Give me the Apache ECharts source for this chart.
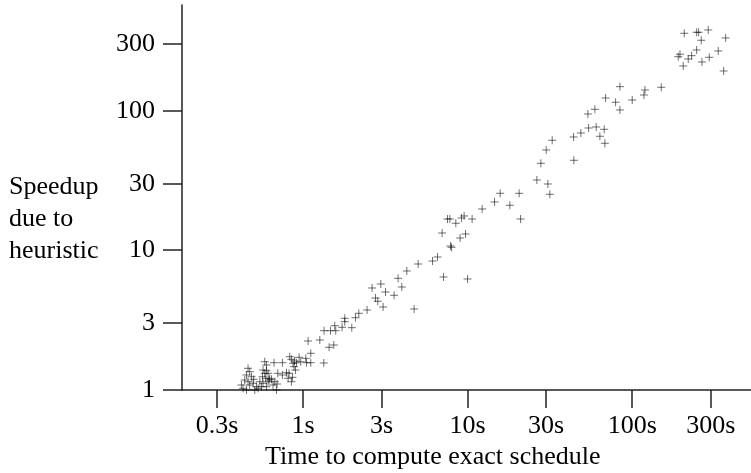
<!DOCTYPE html>
<html>
<head>
<meta charset="utf-8">
<script src="https://cdn.jsdelivr.net/npm/echarts@6/dist/echarts.min.js"></script>
<style>
html,body{margin:0;padding:0;background:#fff;}
#chart{width:751px;height:473px;}
</style>
</head>
<body>
<div id="chart"></div>
<script>
// Time to compute exact schedule (seconds)
const timeSec = [
  0.324,0.385,0.412,0.422,0.432,0.442,0.442,0.442,0.453,0.453,
  0.463,0.463,0.474,0.474,0.474,0.486,0.486,0.497,0.497,0.501,
  0.509,0.521,0.533,0.546,0.546,0.559,0.567,0.571,0.571,0.571,
  0.585,0.585,0.585,0.593,0.599,0.599,0.599,0.613,0.613,0.613,
  0.621,0.627,0.643,0.643,0.657,0.666,0.673,0.689,0.695,0.702,
  0.749,0.749,0.793,0.811,0.822,0.830,0.850,0.850,0.862,0.869,
  0.882,0.887,0.899,0.912,0.946,0.968,1.038,1.049,1.114,1.114,
  1.073,1.264,1.336,1.342,1.439,1.537,1.468,1.580,1.558,1.726,
  1.792,1.792,1.977,2.082,2.181,2.449,2.627,2.968,2.755,2.845,
  3.169,3.064,3.574,3.780,3.981,4.270,4.729,5.002,6.117,6.561,
  7.137,6.998,7.547,7.795,8.478,9.182,9.522,10.65,7.870,7.982,
  9.004,9.710,9.986,12.25,14.57,15.76,18.05,20.56,20.97,26.35,
  30.73,31.60,27.86,30.01,32.64,44.22,44.04,48.76,54.33,60.41,
  67.56,63.62,68.23,53.80,59.33,68.91,79.27,84.19,84.19,100.0,
  117.8,119.5,150.1,207.1,246.4,253.3,289.7,262.7,369.7,246.4,
  333.3,195.0,190.4,229.6,219.0,204.2,265.3,293.8,359.4
];
// Speedup due to heuristic
const speedup = [
  0.739,0.887,0.972,1.086,1.028,1.179,0.947,0.895,1.281,1.0,
  1.431,1.147,1.353,1.086,0.921,1.245,0.972,1.117,0.921,1.193,
  1.0,1.056,1.028,1.147,0.947,1.056,1.245,1.391,1.117,0.972,
  1.595,1.317,0.921,1.213,1.511,1.375,1.056,1.317,1.147,0.989,
  1.179,1.213,1.193,0.947,1.086,1.569,1.147,1.0,1.104,1.317,
  1.569,1.281,1.331,1.213,1.317,1.733,1.66,1.147,1.233,1.554,
  1.469,1.614,1.391,1.569,1.716,1.595,1.687,1.569,1.569,1.833,
  2.245,2.282,1.562,2.662,2.023,2.102,2.662,2.662,2.890,2.815,
  3.266,3.087,2.797,3.298,3.547,3.746,5.385,5.752,4.565,4.323,
  5.041,3.936,4.773,6.319,5.475,7.129,3.808,8.003,8.409,8.982,
  6.457,13.35,16.82,16.82,15.67,17.10,17.68,16.82,10.77,10.54,
  12.29,13.13,6.247,19.84,22.27,25.70,21.09,25.70,16.82,32.02,
  29.97,25.29,42.18,52.54,61.66,44.32,65.12,69.55,75.53,76.79,
  73.93,65.87,58.68,95.17,102.8,123.9,115.5,101.7,149.4,119.9,
  130.2,141.4,147.9,360.6,366.6,366.6,380.7,321.3,333.7,273.7,
  269.2,255.0,245.0,249.1,235.9,210.2,224.5,242.6,193.5
];
const xTicks = [0.3, 1, 3, 10, 30, 100, 300];
const yTicks = [1, 3, 10, 30, 100, 300];
const xRange = [0.1838, 527];
const yRange = [1, 575];
const xTitle = 'Time to compute exact schedule';
const yTitle = 'Speedup\ndue to\nheuristic';

const points = timeSec.map((t, i) => [t, speedup[i]]);
const FONT = 'Liberation Serif';
const AX = '#222';
const TICK_X_LEN = 18, TICK_Y_LEN = 19;

const titleGraphics = [
  {id: 'ytitle', type: 'text', left: 9, top: 171, z: 100,
   style: {text: yTitle, font: '26px "Liberation Serif"', fill: '#000', lineHeight: 32}},
  {id: 'xtitle', type: 'text', left: 265, top: 444, z: 100,
   style: {text: xTitle, font: '26px "Liberation Serif"', fill: '#000'}}
];

const chart = echarts.init(document.getElementById('chart'));
chart.setOption({
  animation: false,
  backgroundColor: '#fff',
  grid: {left: 182, right: 0, top: 5, bottom: 83, outerBoundsMode: 'none'},
  xAxis: {
    type: 'log', min: xRange[0], max: xRange[1],
    axisLine: {show: true, lineStyle: {color: AX, width: 1.5}},
    axisTick: {show: false},
    splitLine: {show: false},
    axisLabel: {customValues: xTicks, interval: 0, margin: 23, fontFamily: FONT, fontSize: 26, color: '#000',
      formatter: v => v + 's'}
  },
  yAxis: {
    type: 'log', min: yRange[0], max: yRange[1],
    axisLine: {show: true, lineStyle: {color: AX, width: 1.5}},
    axisTick: {show: false},
    splitLine: {show: false},
    axisLabel: {customValues: yTicks, interval: 0, margin: 27, fontFamily: FONT, fontSize: 26, color: '#000'}
  },
  graphic: titleGraphics,
  series: [{
    type: 'scatter',
    data: points,
    symbol: 'path://M0,-1L0,1M-1,0L1,0',
    symbolSize: 8,
    itemStyle: {color: 'rgba(0,0,0,0)', borderColor: 'rgba(0,0,0,0.7)', borderWidth: 1},
    emphasis: {disabled: true}
  }]
});

// Tick marks: positions come from the chart's own log scales via convertToPixel
const tickGraphics = [];
xTicks.forEach((v, i) => {
  const p = chart.convertToPixel({gridIndex: 0}, [v, yRange[0]]);
  const x = Math.round(p[0]);
  tickGraphics.push({id: 'xt' + i, type: 'line', z: 100,
    shape: {x1: x, y1: p[1], x2: x, y2: p[1] + TICK_X_LEN},
    style: {stroke: AX, lineWidth: 1.5}});
});
yTicks.forEach((v, i) => {
  const p = chart.convertToPixel({gridIndex: 0}, [xRange[0], v]);
  const y = Math.round(p[1]);
  tickGraphics.push({id: 'yt' + i, type: 'line', z: 100,
    shape: {x1: p[0] - TICK_Y_LEN, y1: y, x2: p[0], y2: y},
    style: {stroke: AX, lineWidth: 1.5}});
});
chart.setOption({graphic: titleGraphics.concat(tickGraphics)});
</script>
</body>
</html>
